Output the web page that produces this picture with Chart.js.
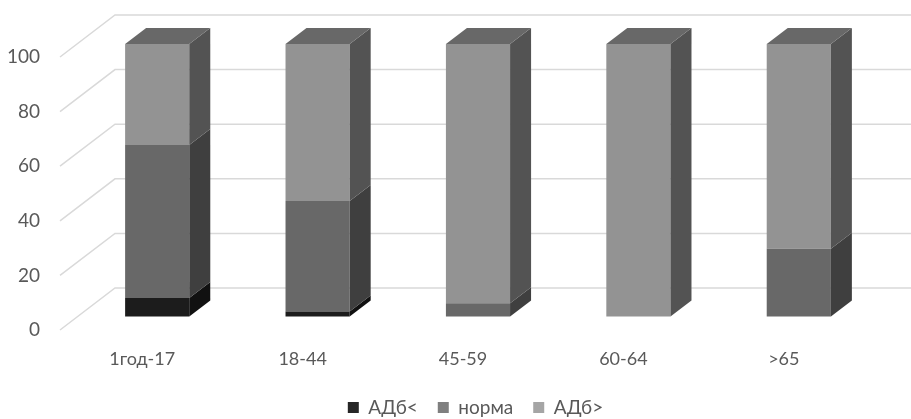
<!DOCTYPE html>
<html>
<head>
<meta charset="utf-8">
<script src="https://cdn.jsdelivr.net/npm/chart.js@4"></script>
<style>
  html, body { margin: 0; padding: 0; background: #fff; }
  #wrap { width: 911px; height: 419px; }
</style>
</head>
<body>
<div id="wrap"><canvas id="myChart"></canvas></div>
<script>
const ageGroups = ['1год-17', '18-44', '45-59', '60-64', '>65'];
const lowBP = [7, 2, 0, 0, 0];
const normalBP = [56, 40.5, 5, 0, 25];
const highBP = [37, 57.5, 95, 100, 75];
const yTicks = [0, 20, 40, 60, 80, 100];
const seriesNames = ['АДб<', 'норма', 'АДб>'];

// looks
const frontColors = ['#1c1c1c', '#686868', '#939393'];
const sideColors = ['#111111', '#3f3f3f', '#535353'];
const topColors = ['#262626', '#5a5a5a', '#686868'];
const legendColors = ['#262626', '#7f7f7f', '#a5a5a5'];
const textColor = '#595959';

// 3d offsets (px)
const DEPTH_X = 21, DEPTH_Y = -16;   // bar depth
const WALL_X = 38, WALL_Y = -29;     // back wall vs bar front
const EDGE_X = -17, EDGE_Y = 13;     // front edge (labels) vs bar front
const AREA_BOTTOM = 317;
const PAD_BOTTOM = -8;
const LEGEND_SHIFT = 36;

const bars3d = {
    id: 'bars3d',
    afterLayout(chart) {
        // legend sits a bit right of the canvas centre
        if (chart.legend) {
            chart.legend.left += LEGEND_SHIFT;
            chart.legend.right += LEGEND_SHIFT;
        }
    },
    beforeDatasetsDraw(chart) {
        const ctx = chart.ctx;
        const y = chart.scales.y;
        const area = chart.chartArea;
        ctx.save();
        ctx.strokeStyle = '#d9d9d9';
        ctx.lineWidth = 1.5;
        yTicks.forEach(v => {
            const py = y.getPixelForValue(v);
            ctx.beginPath();
            ctx.moveTo(area.left + EDGE_X, py + EDGE_Y);
            ctx.lineTo(area.left + WALL_X, py + WALL_Y);
            ctx.lineTo(chart.width, py + WALL_Y);
            ctx.stroke();
        });
        ctx.restore();
    },
    afterDatasetsDraw(chart) {
        const ctx = chart.ctx;
        const n = chart.data.datasets.length;
        ctx.save();
        for (let d = 0; d < n; d++) {
            const meta = chart.getDatasetMeta(d);
            meta.data.forEach((bar, i) => {
                const p = bar.getProps(['x', 'y', 'base', 'width'], true);
                const top = Math.min(p.y, p.base), bottom = Math.max(p.y, p.base);
                if (bottom - top < 0.5) return;
                const left = p.x - p.width / 2, right = p.x + p.width / 2;

                ctx.fillStyle = sideColors[d];
                ctx.beginPath();
                ctx.moveTo(right, top);
                ctx.lineTo(right + DEPTH_X, top + DEPTH_Y);
                ctx.lineTo(right + DEPTH_X, bottom + DEPTH_Y);
                ctx.lineTo(right, bottom);
                ctx.closePath();
                ctx.fill();

                let isTop = true;
                for (let k = d + 1; k < n; k++) {
                    if (chart.data.datasets[k].data[i] > 0) isTop = false;
                }
                if (isTop) {
                    ctx.fillStyle = topColors[d];
                    ctx.beginPath();
                    ctx.moveTo(left, top);
                    ctx.lineTo(left + DEPTH_X, top + DEPTH_Y);
                    ctx.lineTo(right + DEPTH_X, top + DEPTH_Y);
                    ctx.lineTo(right, top);
                    ctx.closePath();
                    ctx.fill();
                }
            });
        }
        ctx.restore();
    }
};

const seriesData = [lowBP, normalBP, highBP];

const ctx = document.getElementById('myChart').getContext('2d');
const myChart = new Chart(ctx, {
    type: 'bar',
    data: {
        labels: ageGroups,
        datasets: seriesData.map((vals, d) => ({
            label: seriesNames[d],
            data: vals,
            backgroundColor: frontColors[d],
            borderWidth: 0,
            barPercentage: 0.4,
            categoryPercentage: 1
        }))
    },
    options: {
        responsive: true,
        maintainAspectRatio: false,
        animation: false,
        layout: {
            padding: { top: 44, right: 32, left: 0, bottom: PAD_BOTTOM }
        },
        plugins: {
            tooltip: { enabled: false },
            legend: {
                position: 'bottom',
                labels: {
                    color: textColor,
                    font: { family: 'Lato', size: 19 },
                    boxWidth: 11,
                    boxHeight: 11,
                    padding: 20,
                    generateLabels(chart) {
                        return chart.data.datasets.map((ds, d) => ({
                            text: ds.label,
                            fillStyle: legendColors[d],
                            strokeStyle: legendColors[d],
                            lineWidth: 0,
                            fontColor: textColor,
                            datasetIndex: d
                        }));
                    }
                }
            }
        },
        scales: {
            x: {
                stacked: true,
                // invisible tick marks give the gap under the bars
                grid: { display: true, color: 'transparent', drawTicks: true, tickLength: 31 },
                border: { display: false },
                ticks: {
                    color: textColor,
                    font: { family: 'Lato', size: 18 },
                    labelOffset: -15,
                    padding: 0,
                    maxRotation: 0
                },
                afterFit(s) {
                    const lg = s.chart.legend;
                    const lh = (lg && lg.height) || 0;
                    s.height = s.chart.height - PAD_BOTTOM - AREA_BOTTOM - lh;
                }
            },
            y: {
                stacked: true,
                min: 0,
                max: 100,
                afterBuildTicks(s) {
                    s.ticks = yTicks.map(v => ({ value: v }));
                },
                grid: { display: true, color: 'transparent', drawTicks: true, tickLength: 37 },
                border: { display: false },
                ticks: {
                    color: textColor,
                    font: { family: 'Lato', size: 19 },
                    labelOffset: 13,
                    padding: 0
                },
                afterFit(s) {
                    s.width = 77;
                }
            }
        }
    },
    plugins: [bars3d]
});
</script>
</body>
</html>
